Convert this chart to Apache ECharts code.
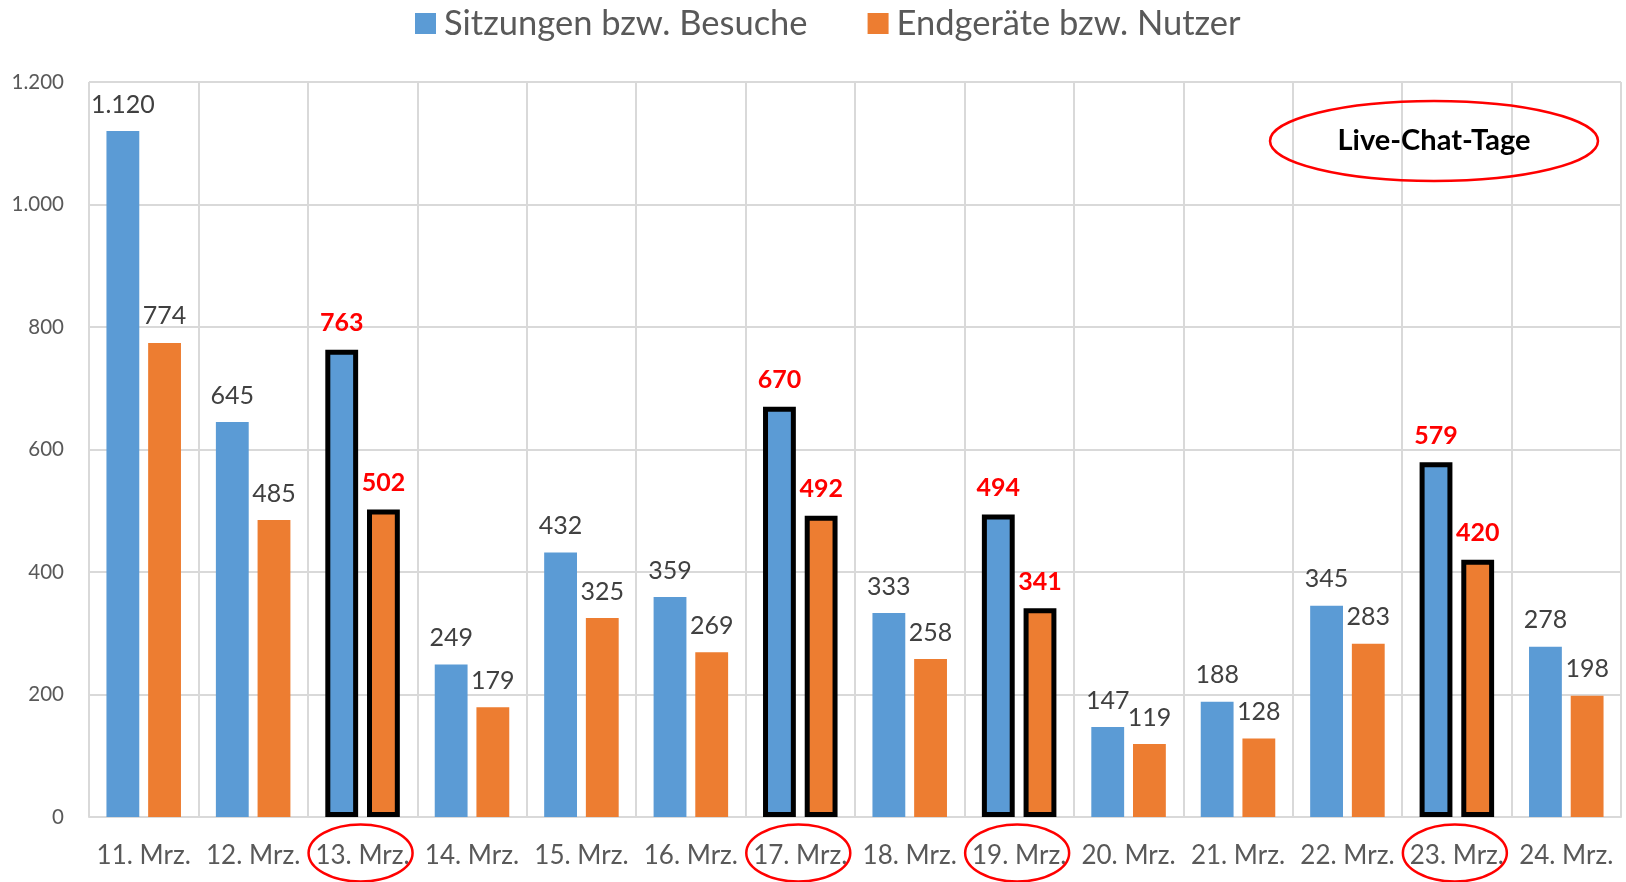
<!DOCTYPE html>
<html>
<head>
<meta charset="utf-8">
<script src="https://cdn.jsdelivr.net/npm/echarts@6/dist/echarts.min.js"></script>
<style>
    html, body { margin: 0; padding: 0; background: #fff; }
    #chart { width: 1626px; height: 882px; }
</style>
</head>
<body>
<div id="chart"></div>
<script>
var categories = ['11. Mrz.', '12. Mrz.', '13. Mrz.', '14. Mrz.', '15. Mrz.', '16. Mrz.', '17. Mrz.',
    '18. Mrz.', '19. Mrz.', '20. Mrz.', '21. Mrz.', '22. Mrz.', '23. Mrz.', '24. Mrz.'];
var sitzungen = [1120, 645, 763, 249, 432, 359, 670, 333, 494, 147, 188, 345, 579, 278];
var endgeraete = [774, 485, 502, 179, 325, 269, 492, 258, 341, 119, 128, 283, 420, 198];
// Live-Chat-Tage
var chatDays = ['13. Mrz.', '17. Mrz.', '19. Mrz.', '23. Mrz.'];

var FONT = 'Lato, "Open Sans", sans-serif';

function fmt(v) {
    return String(v).replace(/\B(?=(\d{3})+(?!\d))/g, '.');
}

function buildData(values) {
    return values.map(function (v, i) {
        var hot = chatDays.indexOf(categories[i]) >= 0;
        if (!hot) return v;
        return {
            value: v,
            itemStyle: { borderColor: '#000', borderWidth: 5 },
            label: { color: '#ff0000', fontWeight: 'bold' }
        };
    });
}

var chart = echarts.init(document.getElementById('chart'));

var barLabel = {
    show: true,
    position: 'top',
    distance: 14,
    fontSize: 25,
    fontFamily: FONT,
    color: '#404040',
    formatter: function (p) { return fmt(p.value); }
};

var option = {
    animation: false,
    textStyle: { fontFamily: FONT },
    legend: {
        top: 1,
        left: 410,
        itemWidth: 21,
        itemHeight: 21,
        itemGap: 60,
        icon: 'rect',
        textStyle: { fontSize: 34.5, color: '#595959', fontFamily: FONT, padding: [0, 0, 0, 3] },
        data: ['Sitzungen bzw. Besuche', 'Endgeräte bzw. Nutzer']
    },
    grid: { left: 89, right: 5, top: 82, bottom: 65 },
    xAxis: {
        type: 'category',
        data: categories,
        axisLine: { lineStyle: { color: '#d9d9d9', width: 2 } },
        axisTick: { show: false },
        splitLine: { show: true, lineStyle: { color: '#d9d9d9', width: 2 } },
        axisLabel: { fontSize: 26, color: '#595959', margin: 26, fontFamily: FONT, interval: 0 }
    },
    yAxis: {
        type: 'value',
        min: 0,
        max: 1200,
        interval: 200,
        axisLine: { show: false },
        axisTick: { show: false },
        splitLine: { lineStyle: { color: '#d9d9d9', width: 2 } },
        axisLabel: { fontSize: 20.5, color: '#595959', margin: 25, fontFamily: FONT, formatter: fmt }
    },
    series: [
        {
            name: 'Sitzungen bzw. Besuche',
            type: 'bar',
            barWidth: '30%',
            barGap: '27%',
            itemStyle: { color: '#5b9bd5' },
            label: barLabel,
            data: buildData(sitzungen)
        },
        {
            name: 'Endgeräte bzw. Nutzer',
            type: 'bar',
            barWidth: '30%',
            barGap: '27%',
            itemStyle: { color: '#ed7d31' },
            label: barLabel,
            data: buildData(endgeraete)
        }
    ]
};

chart.setOption(option);

// Ellipsen um die Live-Chat-Tage und Hinweis oben rechts
var graphics = chatDays.map(function (c) {
    var x = chart.convertToPixel({ xAxisIndex: 0 }, c);
    return {
        type: 'ellipse',
        shape: { cx: x - 2, cy: 853, rx: 52, ry: 28.5 },
        style: { fill: 'none', stroke: '#ff0000', lineWidth: 2.5 },
        z: 100
    };
});
graphics.push({
    type: 'ellipse',
    shape: { cx: 1434, cy: 141, rx: 164, ry: 40 },
    style: { fill: 'none', stroke: '#ff0000', lineWidth: 2.5 },
    z: 100
});
graphics.push({
    type: 'text',
    x: 1434,
    y: 141,
    style: {
        text: 'Live-Chat-Tage',
        fill: '#000',
        font: 'bold 29px ' + FONT,
        align: 'center',
        verticalAlign: 'middle'
    },
    z: 101
});
chart.setOption({ graphic: graphics });
</script>
</body>
</html>
